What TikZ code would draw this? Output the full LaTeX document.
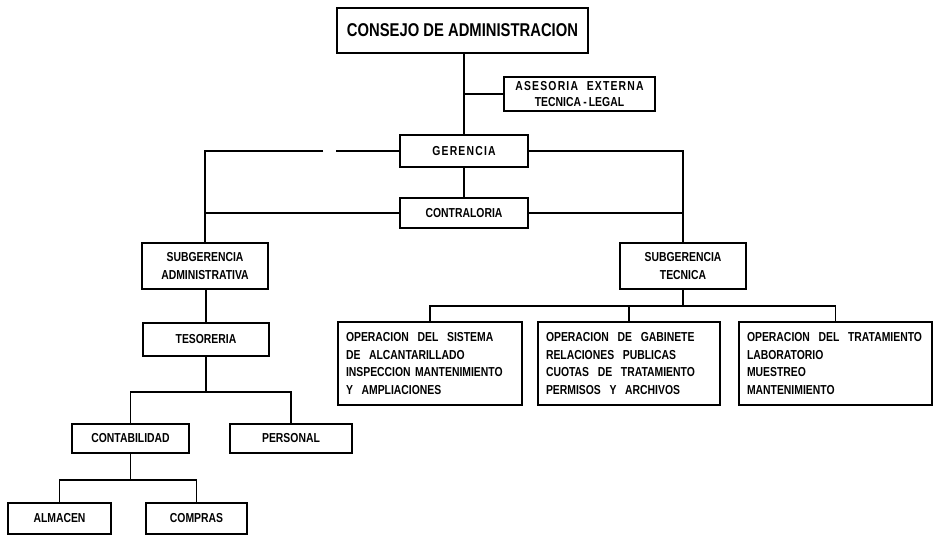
\documentclass[tikz,border=0pt]{standalone}
\usepackage{fontspec}
\setmainfont[FakeStretch=0.8]{Liberation Sans}
\newcommand\lbl{\fontsize{13}{17.5}\selectfont\bfseries}
\newcommand\biglbl{\fontsize{18.5}{20}\selectfont\bfseries}
\newcommand\spc{\kern1.2pt}
\begin{document}
\begin{tikzpicture}[x=1pt,y=-1pt,
  box/.style={draw, line width=1.5pt, inner sep=0pt, align=center, font=\lbl},
  wbox/.style={draw, line width=1.5pt, inner xsep=8pt, inner ysep=0pt, align=left, font=\lbl},
  link/.style={line width=1.1pt}]
\useasboundingbox (0,0) rectangle (934,535);

\node[box, line width=2.4pt, font=\biglbl, minimum width=251pt, minimum height=45pt] (consejo) at (462.5,30.5) {CONSEJO DE ADMINISTRACION};
\node[box, minimum width=151pt, minimum height=34pt] (asesoria) at (579.5,94) {A\spc S\spc E\spc S\spc O\spc R\spc I\spc A \ \ E\spc X\spc T\spc E\spc R\spc N\spc A\\[-1pt]TECNICA\,-\,LEGAL};
\node[box, minimum width=128pt, minimum height=32pt] (gerencia) at (464,151) {G\spc E\spc R\spc E\spc N\spc C\spc I\spc A};
\node[box, minimum width=128pt, minimum height=30pt] (contraloria) at (464,213) {CONTRALORIA};
\node[box, minimum width=126pt, minimum height=46pt] (subadm) at (205,266) {SUBGERENCIA\\ADMINISTRATIVA};
\node[box, minimum width=126pt, minimum height=46pt] (subtec) at (683,266) {SUBGERENCIA\\TECNICA};
\node[box, minimum width=126pt, minimum height=33pt] (tesoreria) at (206,339.5) {TESORERIA};
\node[box, minimum width=117pt, minimum height=29pt] (contab) at (130.5,438.5) {CONTABILIDAD};
\node[box, minimum width=122pt, minimum height=29pt] (personal) at (291,438.5) {PERSONAL};
\node[box, minimum width=103pt, minimum height=31pt] (almacen) at (59.5,518.5) {ALMACEN};
\node[box, minimum width=101pt, minimum height=31pt] (compras) at (196.5,518.5) {COMPRAS};

\node[wbox, text width=168pt, minimum height=83pt] (op1) at (430,363.5) {OPERACION \ DEL \ SISTEMA\\DE \ ALCANTARILLADO\\INSPECCION MANTENIMIENTO\\Y \ AMPLIACIONES};
\node[wbox, text width=166pt, minimum height=83pt] (op2) at (629,363.5) {OPERACION \ DE \ GABINETE\\RELACIONES \ PUBLICAS\\CUOTAS \ DE \ TRATAMIENTO\\PERMISOS \ Y \ ARCHIVOS};
\node[wbox, text width=177pt, minimum height=83pt] (op3) at (835.5,363.5) {OPERACION \ DEL \ TRATAMIENTO\\LABORATORIO\\MUESTREO\\MANTENIMIENTO};

\coordinate (xR) at (336,0);
\coordinate (xL) at (323,0);
\coordinate (lvlA) at (0,392);
\coordinate (lvlB) at (0,480);
\coordinate (lvlC) at (0,306);

\draw[link] (gerencia.north |- consejo.south) -- (gerencia.north);
\draw[link] (asesoria.west) -- (asesoria.west -| gerencia.north);
\draw[link] (gerencia.south) -- (contraloria.north);
\draw[link] (gerencia.east) -| (subtec.north);
\draw[link] (contraloria.east) -- (contraloria.east -| subtec.north);
\draw[link] (gerencia.west) -- (gerencia.west -| xR);
\draw[link] (gerencia.west -| xL) -| (subadm.north);
\draw[link] (contraloria.west) -- (contraloria.west -| subadm.north);
\draw[link] (tesoreria.north |- subadm.south) -- (tesoreria.north);
\draw[link] (tesoreria.south) -- (tesoreria.south |- lvlA);
\draw[link] (contab.north) |- (tesoreria.south |- lvlA) -| (personal.north);
\draw[link] (contab.south) -- (contab.south |- lvlB);
\draw[link] (almacen.north) |- (contab.south |- lvlB) -| (compras.north);
\draw[link] (subtec.south) -- (subtec.south |- lvlC);
\draw[link] (op1.north) |- (subtec.south |- lvlC) -| (op3.north);
\draw[link] (op2.north) -- (op2.north |- lvlC);
\end{tikzpicture}
\end{document}
